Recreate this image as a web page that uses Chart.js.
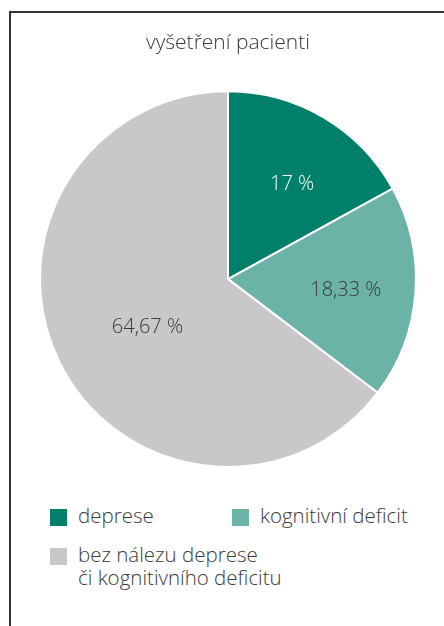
<!DOCTYPE html>
<html lang="cs">
<head>
  <meta charset="UTF-8" />
  <title>vyšetření pacienti</title>
  <script src="https://cdn.jsdelivr.net/npm/chart.js"></script>
  <style>
    body {
      margin: 0;
      padding: 0;
      background: #fff;
      font-family: "Open Sans", sans-serif;
      font-weight: 300;
    }
    .frame {
      position: absolute;
      left: 9px;
      top: 11px;
      width: 435px;
      height: 615px;
      border-left: 2px solid #333;
      border-top: 2px solid #333;
    }
    #chart {
      position: absolute;
      left: 0;
      top: 0;
    }
    .legend-item {
      position: absolute;
      color: #3a3a3a;
      font-size: 20.5px;
      line-height: 23px;
    }
    .legend-item .box {
      position: absolute;
      left: 0;
      top: 3px;
      width: 17px;
      height: 17px;
    }
    .legend-item .txt {
      position: absolute;
      left: 28px;
      top: -2px;
      white-space: nowrap;
    }
  </style>
</head>
<body>
  <div class="frame"></div>
  <canvas id="chart" width="444" height="495"></canvas>
  <div id="legend"></div>

  <script>
    const title = "vyšetření pacienti";
    const categories = ["deprese", "kognitivní deficit", ["bez nálezu deprese", "či kognitivního deficitu"]];
    const values = [17, 18.33, 64.67];
    const colors = ["#007f6b", "#6ab3a6", "#c8c8ca"];
    const labelColors = ["#ffffff", "#3a3a3a", "#3a3a3a"];
    const labelRadius = [0.61, 0.63, 0.5];
    const labelTurn = [0.06, 0.02, -0.08];

    // legend positions (left, top) in page pixels
    const legendPos = [[50, 506], [232, 506], [50, 545]];

    function fmt(v) {
      return String(v).replace(".", ",") + " %";
    }

    // draw value labels inside slices
    const sliceLabels = {
      id: "sliceLabels",
      afterDatasetsDraw(chart) {
        const ctx = chart.ctx;
        const meta = chart.getDatasetMeta(0);
        ctx.save();
        ctx.font = "300 20px 'Open Sans', sans-serif";
        ctx.textAlign = "center";
        ctx.textBaseline = "middle";
        meta.data.forEach((arc, i) => {
          const p = arc.getProps(["x", "y", "startAngle", "endAngle", "outerRadius"], true);
          const mid = (p.startAngle + p.endAngle) / 2 + labelTurn[i];
          const r = p.outerRadius * labelRadius[i];
          ctx.fillStyle = labelColors[i];
          ctx.fillText(fmt(values[i]), p.x + Math.cos(mid) * r, p.y + Math.sin(mid) * r);
        });
        ctx.restore();
      }
    };

    new Chart(document.getElementById("chart"), {
      type: "pie",
      data: {
        labels: categories,
        datasets: [{
          data: values,
          backgroundColor: colors,
          borderColor: "#ffffff",
          borderWidth: 2
        }]
      },
      options: {
        responsive: false,
        animation: false,
        layout: { padding: { left: 34, right: 22, top: 0, bottom: 27 } },
        plugins: {
          legend: { display: false },
          tooltip: { enabled: false },
          title: {
            display: true,
            text: title,
            color: "#3a3a3a",
            font: { family: "'Open Sans', sans-serif", size: 21, weight: 300 },
            padding: { top: 30, bottom: 35 }
          }
        }
      },
      plugins: [sliceLabels]
    });

    // html legend built from the same arrays
    const legend = document.getElementById("legend");
    categories.forEach((c, i) => {
      const item = document.createElement("div");
      item.className = "legend-item";
      item.style.left = legendPos[i][0] + "px";
      item.style.top = legendPos[i][1] + "px";
      const box = document.createElement("span");
      box.className = "box";
      box.style.background = colors[i];
      const txt = document.createElement("span");
      txt.className = "txt";
      txt.innerHTML = Array.isArray(c) ? c.join("<br>") : c;
      item.appendChild(box);
      item.appendChild(txt);
      legend.appendChild(item);
    });
  </script>
</body>
</html>
